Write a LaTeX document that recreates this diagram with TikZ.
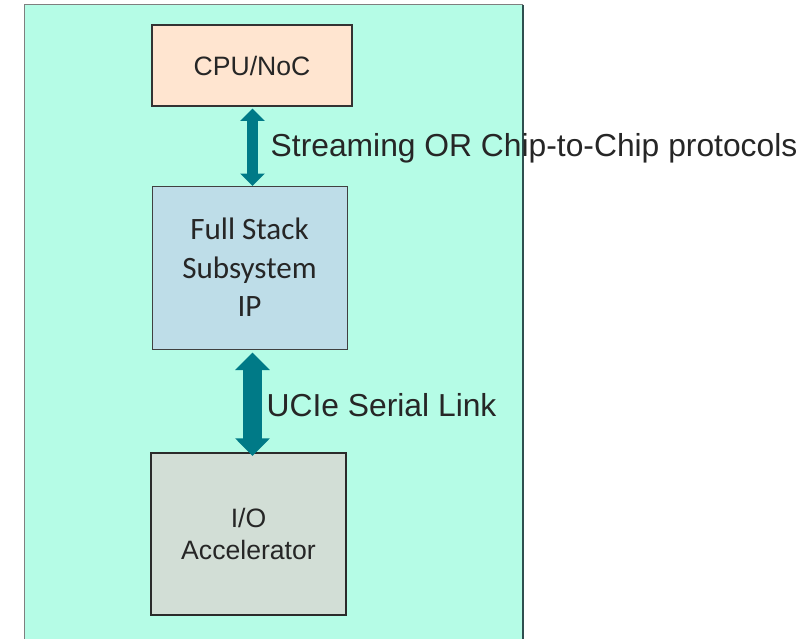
\documentclass[tikz,border=0pt]{standalone}
\usepackage{fontspec}
\setmainfont{Liberation Sans}
\newfontfamily\calibfont{Carlito}
\usetikzlibrary{arrows.meta}
\definecolor{panelfill}{HTML}{B5FCE6}
\definecolor{panelgray}{HTML}{7F7F7F}
\definecolor{paneldark}{HTML}{2F4F4F}
\definecolor{cpufill}{HTML}{FFE5D0}
\definecolor{fsfill}{HTML}{BEDDE8}
\definecolor{iofill}{HTML}{D2DED6}
\definecolor{linkteal}{HTML}{007A87}
\definecolor{inkgray}{HTML}{262626}
\tikzset{
  blockbox/.style={draw, inner sep=0pt, align=center, text=inkgray, anchor=center},
  linklabel/.style={anchor=base west, inner sep=0pt, text=inkgray,
    font=\fontsize{31.8}{38}\selectfont},
  thinlink/.style={draw=linkteal, line width=11.7pt,
    {Triangle[width=24pt,length=12.4pt]}-{Triangle[width=24pt,length=12.4pt]}},
  widelink/.style={draw=linkteal, line width=18.3pt,
    {Triangle[width=33.7pt,length=17.5pt]}-{Triangle[width=33.7pt,length=17.5pt]}},
}
\begin{document}
\begin{tikzpicture}[x=1pt,y=-1pt]
\useasboundingbox (0,0) rectangle (812,638);
% die outline
\fill[panelfill] (24.5,4.5) rectangle (523,640);
\draw[panelgray, line width=1.5pt] (24.5,640) -- (24.5,4.5) -- (523,4.5);
\draw[paneldark, line width=1.5pt] (523,4.5) -- (523,640);

% blocks
\node[blockbox, fill=cpufill, draw=black!80, line width=2pt,
  minimum width=200pt, minimum height=81pt,
  font=\fontsize{26.6}{32}\selectfont] (cpu) at (252,65.5) {CPU/NoC};
\node[blockbox, fill=fsfill, draw=black!75, line width=1pt,
  minimum width=195pt, minimum height=163pt,
  font=\calibfont\fontsize{31.1}{38.5}\selectfont] (fs) at (249.5,267.5)
  {Full Stack\\Subsystem\\IP};
\node[blockbox, fill=iofill, draw=black!83, line width=2.3pt,
  minimum width=195pt, minimum height=162pt,
  font=\fontsize{26.6}{31.7}\selectfont] (io) at (248.5,534) {I/O\\Accelerator};

% links between blocks
\coordinate (ax) at (252.5,0);
\draw[thinlink] ([yshift=-1.5pt]cpu.south -| ax) -- ([yshift=-0.5pt]fs.north -| ax);
\draw[widelink] ([yshift=-3pt]fs.south -| ax) -- ([yshift=-4pt]io.north -| ax);

% link labels
\node[linklabel] (l1) at (270.5,156) {Streaming OR Chip-to-Chip protocols};
\node[linklabel] (l2) at (266.5,416) {UCIe Serial Link};
\end{tikzpicture}
\end{document}
